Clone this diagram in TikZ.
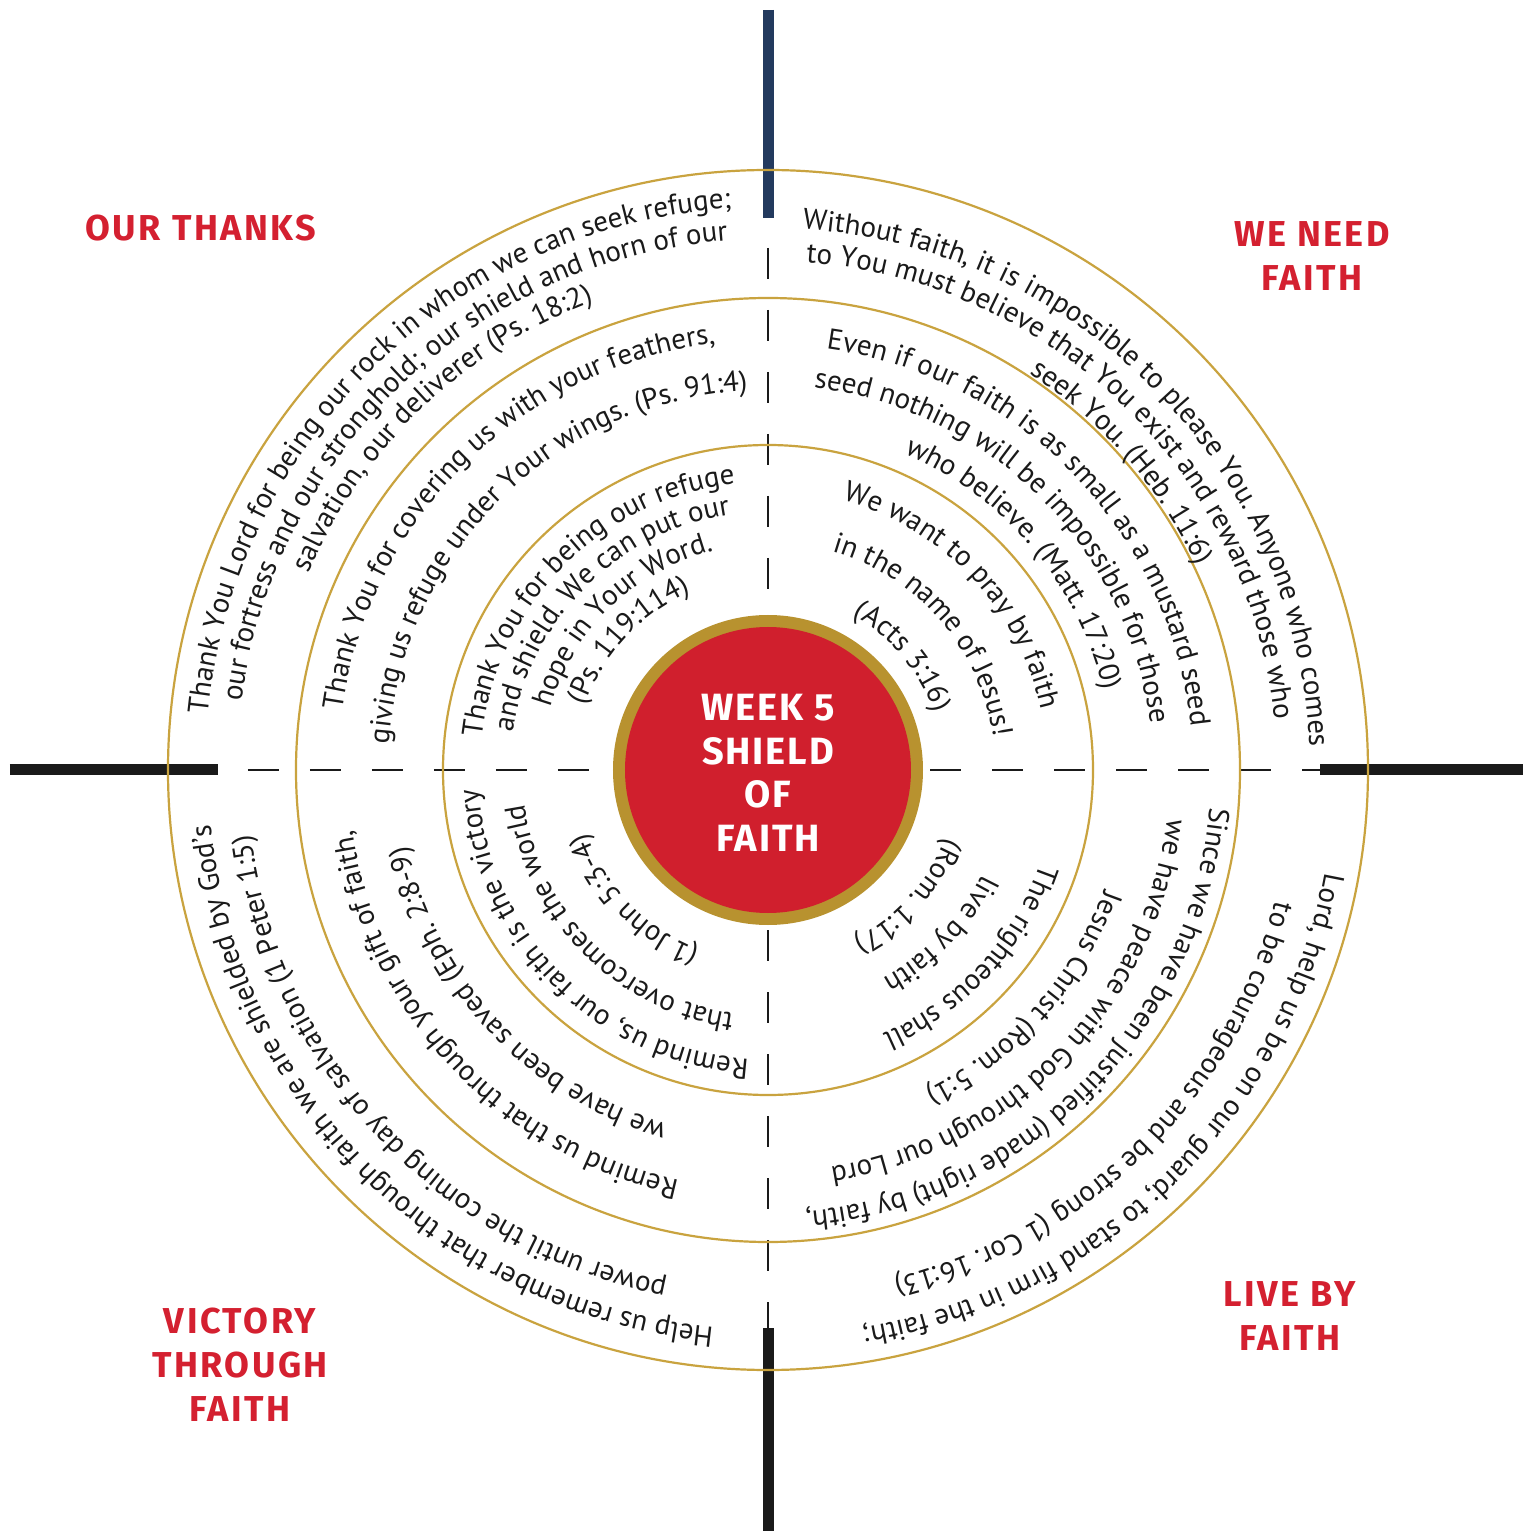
\documentclass[tikz,border=0pt]{standalone}
\usepackage{fontspec}
\setmainfont{PT Sans}
\newfontfamily\labfont{Fira Sans}[LetterSpace=7]
\newfontfamily\cenfont{Fira Sans}[LetterSpace=5]
\usetikzlibrary{decorations.text}
\definecolor{ringgold}{HTML}{C9A33F}
\definecolor{discgold}{HTML}{B8922F}
\definecolor{discred}{HTML}{D01F2D}
\definecolor{labred}{HTML}{D42030}
\definecolor{navybar}{HTML}{233A5E}
\definecolor{barblack}{HTML}{1A1A1A}
\definecolor{inkc}{HTML}{1A1A1A}
\newcommand\ringfont{\fontsize{29}{32}\selectfont\color{inkc}}
\newcommand\ringline[3]{%
  \path[decorate,decoration={text along path,text align=center,text={|\ringfont|#3}}]
    ({#1+70}:#2) arc[start angle={#1+70},end angle={#1-70},radius=#2];}
\tikzset{
  ring/.style={draw=ringgold,line width=2.2pt},
  bar/.style={line width=11pt},
  dashline/.style={draw=barblack,line width=2.6pt,dash pattern=on 31pt off 31pt,dash phase=32pt},
  quadlabel/.style={text=labred,align=center,font=\labfont\bfseries\fontsize{36}{44}\selectfont},
  centerlabel/.style={text=white,align=center,font=\cenfont\bfseries\fontsize{38}{43.5}\selectfont}
}
\begin{document}
\begin{tikzpicture}[x=1pt,y=1pt]
\fill[white] (-768,-761) rectangle (755,770);
\useasboundingbox (-768,-761) rectangle (755,770);
% crosshair
\coordinate (hl) at (-550,0); \coordinate (hr) at (552,0);
\coordinate (vt) at (0,552); \coordinate (vb) at (0,-558);
\draw[dashline] (hl) -- (hr);
\draw[dashline] (vt) -- (vb);
\draw[bar,navybar] (0,760) -- (vt);
\draw[bar,barblack] (vb) -- (0,-761);
\draw[bar,barblack] (-758,0) -- (hl);
\draw[bar,barblack] (hr) -- (755,0);
% rings
\draw[ring] (0,0) circle (600);
\draw[ring] (0,0) circle (472);
\draw[ring] (0,0) circle (325);
% centre disc
\fill[discgold] (0,0) circle (155);
\fill[discred] (0,0) circle (143);
\node[centerlabel] (centre) at (0,-3) {WEEK 5\\SHIELD\\OF\\FAITH};
% quadrant labels
\node[quadlabel] (thanks) at (-567,542) {OUR THANKS};
\node[quadlabel] (needfaith) at (544,514) {WE NEED\\FAITH};
\node[quadlabel] (livefaith) at (522,-546) {LIVE BY\\FAITH};
\node[quadlabel] (victory) at (-528,-595) {VICTORY\\THROUGH\\FAITH};
% top-left
\ringline{134}{563}{Thank You Lord for being our rock in whom we can seek refuge;}
\ringline{133.5}{531}{our fortress and our stronghold; our shield and horn of our}
\ringline{133.6}{500}{salvation, our deliverer (Ps. 18:2)}
\ringline{134.5}{430}{Thank You for covering us with your feathers,}
\ringline{134.6}{380}{giving us refuge under Your wings. (Ps. 91:4)}
\ringline{135}{288}{Thank You for being our refuge}
\ringline{135}{258}{and shield. We can put our}
\ringline{134}{226}{hope in Your Word.}
\ringline{137}{194}{(Ps. 119:114)}
% top-right
\ringline{44.4}{542}{Without faith, it is impossible to please You. Anyone who comes}
\ringline{45.7}{509}{to You must believe that You exist and reward those who}
\ringline{41}{475}{seek You. (Heb. 11:6)}
\ringline{44}{425}{Even if our faith is as small as a mustard seed}
\ringline{45}{385}{seed nothing will be impossible for those}
\ringline{40}{345}{who believe. (Matt. 17:20)}
\ringline{43.5}{280}{We want to pray by faith}
\ringline{41}{228}{in the name of Jesus!}
\ringline{40}{176}{(Acts 3:16)}
% bottom-right
\ringline{-42.7}{288}{The righteous shall}
\ringline{-43.6}{238}{live by faith}
\ringline{-42}{190}{(Rom. 1:17)}
\ringline{-45}{443}{Since we have been justified (made right) by faith,}
\ringline{-44}{402}{we have peace with God through our Lord}
\ringline{-41.7}{357}{Jesus Christ (Rom. 5:1)}
\ringline{-45.4}{566}{Lord, help us be on our guard; to stand firm in the faith;}
\ringline{-45.3}{524}{to be courageous and be strong (1 Cor. 16:13)}
% bottom-left
\ringline{-135}{290}{Remind us, our faith is the victory}
\ringline{-135}{246}{that overcomes the world}
\ringline{-136}{192}{(1 John 5:3-4)}
\ringline{-137}{420}{Remind us that through your gift of faith,}
\ringline{-137}{368}{we have been saved (Eph. 2:8-9)}
\ringline{-135}{560}{Help us remember that through faith we are shielded by God's}
\ringline{-137}{521}{power until the coming day of salvation (1 Peter 1:5)}
\end{tikzpicture}
\end{document}
